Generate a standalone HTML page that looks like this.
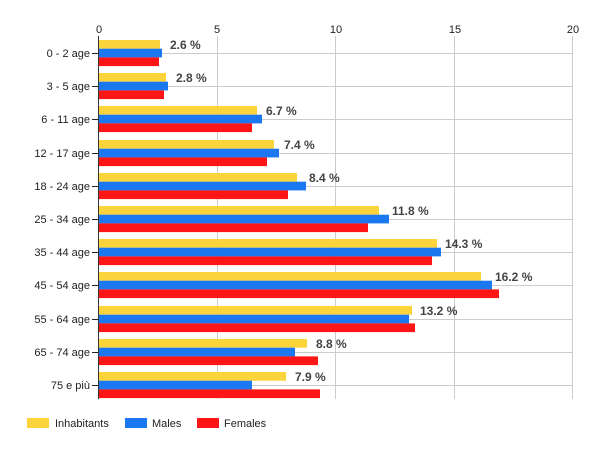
<!DOCTYPE html>
<html><head><meta charset="utf-8"><style>
html,body{margin:0;padding:0;background:#fff;}
svg{display:block;font-family:"Liberation Sans",Arial,sans-serif;}
</style></head><body>
<svg width="600" height="450" xmlns="http://www.w3.org/2000/svg">
<g stroke="#ccc" stroke-width="1">
<line x1="217.5" y1="36" x2="217.5" y2="399"/>
<line x1="335.5" y1="36" x2="335.5" y2="399"/>
<line x1="454.5" y1="36" x2="454.5" y2="399"/>
<line x1="572.5" y1="36" x2="572.5" y2="399"/>
<line x1="98" y1="53.5" x2="573" y2="53.5"/>
<line x1="98" y1="86.5" x2="573" y2="86.5"/>
<line x1="98" y1="119.5" x2="573" y2="119.5"/>
<line x1="98" y1="153.5" x2="573" y2="153.5"/>
<line x1="98" y1="186.5" x2="573" y2="186.5"/>
<line x1="98" y1="219.5" x2="573" y2="219.5"/>
<line x1="98" y1="252.5" x2="573" y2="252.5"/>
<line x1="98" y1="285.5" x2="573" y2="285.5"/>
<line x1="98" y1="319.5" x2="573" y2="319.5"/>
<line x1="98" y1="352.5" x2="573" y2="352.5"/>
<line x1="98" y1="385.5" x2="573" y2="385.5"/>
</g>
<g>
<rect x="99" y="40" width="61" height="8.7" fill="#fbd33b"/><rect x="99" y="48.7" width="63" height="8.7" fill="#1c78f0"/><rect x="99" y="57.4" width="60" height="8.7" fill="#fe1515"/>
<rect x="99" y="73" width="67" height="8.7" fill="#fbd33b"/><rect x="99" y="81.7" width="69" height="8.7" fill="#1c78f0"/><rect x="99" y="90.4" width="65" height="8.7" fill="#fe1515"/>
<rect x="99" y="106" width="158" height="8.7" fill="#fbd33b"/><rect x="99" y="114.7" width="163" height="8.7" fill="#1c78f0"/><rect x="99" y="123.4" width="153" height="8.7" fill="#fe1515"/>
<rect x="99" y="140" width="175" height="8.7" fill="#fbd33b"/><rect x="99" y="148.7" width="180" height="8.7" fill="#1c78f0"/><rect x="99" y="157.4" width="168" height="8.7" fill="#fe1515"/>
<rect x="99" y="173" width="198" height="8.7" fill="#fbd33b"/><rect x="99" y="181.7" width="207" height="8.7" fill="#1c78f0"/><rect x="99" y="190.4" width="189" height="8.7" fill="#fe1515"/>
<rect x="99" y="206" width="280" height="8.7" fill="#fbd33b"/><rect x="99" y="214.7" width="290" height="8.7" fill="#1c78f0"/><rect x="99" y="223.4" width="269" height="8.7" fill="#fe1515"/>
<rect x="99" y="239" width="338" height="8.7" fill="#fbd33b"/><rect x="99" y="247.7" width="342" height="8.7" fill="#1c78f0"/><rect x="99" y="256.4" width="333" height="8.7" fill="#fe1515"/>
<rect x="99" y="272" width="382" height="8.7" fill="#fbd33b"/><rect x="99" y="280.7" width="393" height="8.7" fill="#1c78f0"/><rect x="99" y="289.4" width="400" height="8.7" fill="#fe1515"/>
<rect x="99" y="306" width="313" height="8.7" fill="#fbd33b"/><rect x="99" y="314.7" width="310" height="8.7" fill="#1c78f0"/><rect x="99" y="323.4" width="316" height="8.7" fill="#fe1515"/>
<rect x="99" y="339" width="208" height="8.7" fill="#fbd33b"/><rect x="99" y="347.7" width="196" height="8.7" fill="#1c78f0"/><rect x="99" y="356.4" width="219" height="8.7" fill="#fe1515"/>
<rect x="99" y="372" width="187" height="8.7" fill="#fbd33b"/><rect x="99" y="380.7" width="153" height="8.7" fill="#1c78f0"/><rect x="99" y="389.4" width="221" height="8.7" fill="#fe1515"/>
</g>
<g font-size="12" font-weight="bold" fill="#444">
<text x="170" y="49">2.6 %</text>
<text x="176" y="82">2.8 %</text>
<text x="266" y="115">6.7 %</text>
<text x="284" y="149">7.4 %</text>
<text x="309" y="182">8.4 %</text>
<text x="392" y="215">11.8 %</text>
<text x="445" y="248">14.3 %</text>
<text x="495" y="281">16.2 %</text>
<text x="420" y="315">13.2 %</text>
<text x="316" y="348">8.8 %</text>
<text x="295" y="381">7.9 %</text>
</g>
<line x1="98.5" y1="36" x2="98.5" y2="399" stroke="#333"/>
<g stroke="#222">
<line x1="92" y1="53.5" x2="98" y2="53.5"/><line x1="92" y1="86.5" x2="98" y2="86.5"/><line x1="92" y1="119.5" x2="98" y2="119.5"/><line x1="92" y1="153.5" x2="98" y2="153.5"/><line x1="92" y1="186.5" x2="98" y2="186.5"/><line x1="92" y1="219.5" x2="98" y2="219.5"/><line x1="92" y1="252.5" x2="98" y2="252.5"/><line x1="92" y1="285.5" x2="98" y2="285.5"/><line x1="92" y1="319.5" x2="98" y2="319.5"/><line x1="92" y1="352.5" x2="98" y2="352.5"/><line x1="92" y1="385.5" x2="98" y2="385.5"/>
</g>
<g font-size="11" fill="#222" text-anchor="end">
<text x="90" y="57">0 - 2 age</text>
<text x="90" y="90">3 - 5 age</text>
<text x="90" y="123">6 - 11 age</text>
<text x="90" y="157">12 - 17 age</text>
<text x="90" y="190">18 - 24 age</text>
<text x="90" y="223">25 - 34 age</text>
<text x="90" y="256">35 - 44 age</text>
<text x="90" y="289">45 - 54 age</text>
<text x="90" y="323">55 - 64 age</text>
<text x="90" y="356">65 - 74 age</text>
<text x="90" y="389">75 e più</text>
</g>
<g font-size="11" fill="#222" text-anchor="middle">
<text x="99" y="33">0</text><text x="217" y="33">5</text><text x="336" y="33">10</text><text x="455" y="33">15</text><text x="573" y="33">20</text>
</g>
<g font-size="11" fill="#222">
<rect x="27" y="418" width="22" height="10" fill="#fbd33b"/><text x="55" y="427">Inhabitants</text>
<rect x="125" y="418" width="22" height="10" fill="#1c78f0"/><text x="152" y="427">Males</text>
<rect x="197" y="418" width="22" height="10" fill="#fe1515"/><text x="224" y="427">Females</text>
</g>
</svg>
</body></html>
